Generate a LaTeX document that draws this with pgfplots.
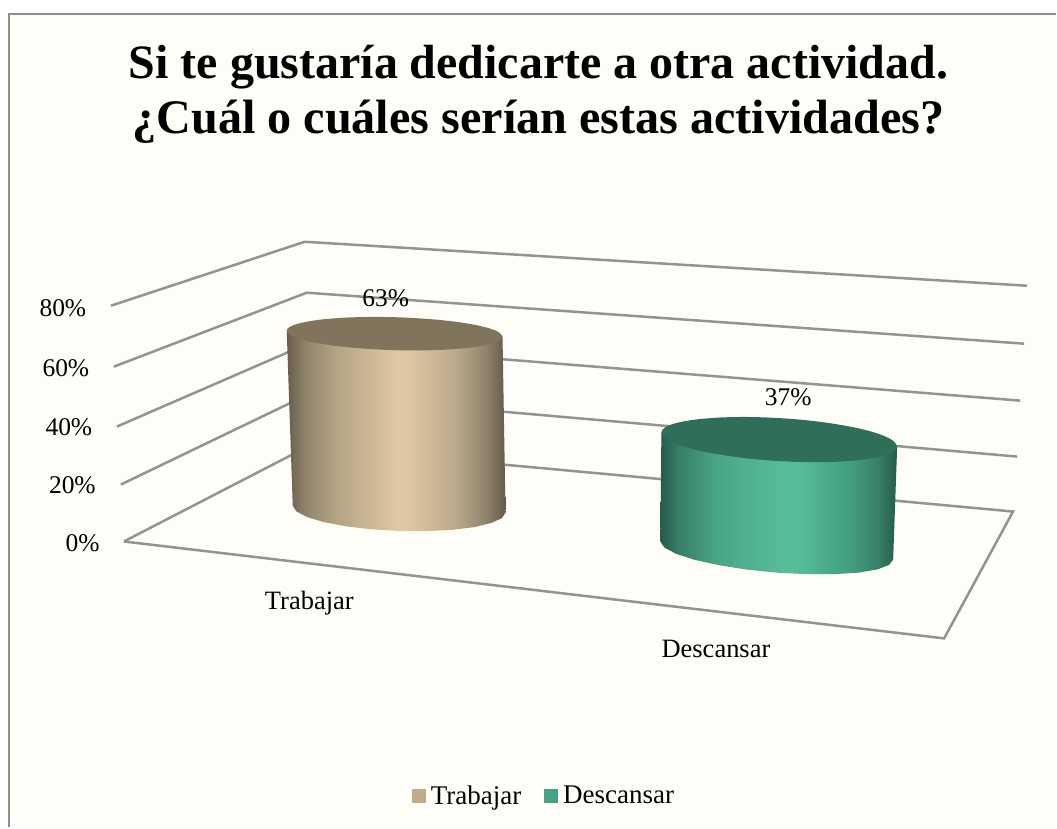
\documentclass[border=0pt]{standalone}
\usepackage{fontspec}
\setmainfont{Liberation Serif}
\usepackage{pgfplots}
\pgfplotsset{compat=1.18}

\definecolor{panel}{HTML}{FFFDF8}
\definecolor{frame}{HTML}{8E8E8C}
\definecolor{gridc}{HTML}{939390}
\definecolor{swA}{HTML}{BFAB8A}
\definecolor{swB}{HTML}{46A284}
\definecolor{topA}{HTML}{80755C}
\definecolor{topB}{HTML}{2F6F59}

% 25bp and 75bp are the left and right edge of the filled path
\pgfdeclarehorizontalshading{cylA}{100bp}{
  rgb(0bp)=(.40,.36,.29); rgb(25bp)=(.40,.36,.29); rgb(29bp)=(.56,.51,.42);
  rgb(36bp)=(.70,.64,.52); rgb(50bp)=(.87,.78,.64); rgb(53bp)=(.87,.78,.64);
  rgb(64bp)=(.72,.66,.54); rgb(71bp)=(.55,.50,.41); rgb(75bp)=(.38,.35,.28);
  rgb(100bp)=(.38,.35,.28)}
\pgfdeclarehorizontalshading{cylB}{100bp}{
  rgb(0bp)=(.15,.36,.29); rgb(25bp)=(.15,.36,.29); rgb(29bp)=(.22,.50,.41);
  rgb(37bp)=(.29,.65,.53); rgb(51bp)=(.34,.74,.60); rgb(54bp)=(.34,.74,.60);
  rgb(65bp)=(.26,.62,.50); rgb(71bp)=(.22,.50,.41); rgb(75bp)=(.14,.36,.29);
  rgb(100bp)=(.14,.36,.29)}

\begin{document}
\begin{tikzpicture}
\begin{axis}[
    scale only axis,
    width=1057pt,
    height=828pt,
    xmin=0, xmax=1057,
    ymin=0, ymax=828,
    y dir=reverse,
    hide axis,
    clip=false,
    no markers,
    legend columns=2,
    legend cell align=left,
    legend style={draw=none, fill=none, at={(axis cs:544.5,796.5)}, anchor=center,
        font=\fontsize{27}{30}\selectfont, inner sep=0pt,
        /tikz/every odd column/.append style={column sep=3pt},
        /tikz/every even column/.append style={column sep=21pt}},
    legend image code/.code={\fill[draw=none, #1] (0pt,-7pt) rectangle (14pt,7pt);},
]
% page and panel
\addplot[draw=none, fill=white, forget plot] coordinates {(0,0) (1057,0) (1057,828) (0,828) (0,0)};
\addplot[draw=none, fill=panel, forget plot] coordinates {(9.5,14.5) (1057,14.5) (1057,828) (9.5,828) (9.5,14.5)};
\addplot[frame, line width=2pt, forget plot] coordinates {(9.5,828) (9.5,14.5) (1057,14.5)};

% side and back wall, 80% down to 0%
\addplot[gridc, line width=2.5pt, forget plot] coordinates {(111,306) (305,242) (1028,286)};
\addplot[gridc, line width=2.5pt, forget plot] coordinates {(114,367) (307,293) (1025,344)};
\addplot[gridc, line width=2.5pt, forget plot] coordinates {(117,427) (308,344) (1021,401)};
\addplot[gridc, line width=2.5pt, forget plot] coordinates {(121,485) (308,395) (1018,457)};
% floor
\addplot[gridc, line width=2.5pt, forget plot] coordinates {(124,542) (308,447) (1014,512) (945,639) (124,542)};

% Trabajar 63%
\addplot[draw=none, shade, shading=cylA, forget plot] coordinates {
  (287,331) (293,506) (296.6,511.8) (307.3,517.5) (324.2,522.6) (346.3,526.8) (371.9,529.8)
  (399.5,531.5) (427.1,531.6) (452.8,530.3) (474.8,527.6) (491.7,523.5) (502.4,518.6)
  (506,513) (503,337) (287,331)};
\addplot[draw=none, fill=topA, smooth, tension=0.6, forget plot] coordinates {
  (503,337) (499.3,341.2) (488.5,344.9) (471.4,347.8) (449,349.8) (423,350.7) (395,350.5)
  (367,349.1) (341,346.8) (318.6,343.6) (301.5,339.7) (290.7,335.4) (287,331) (290.7,326.8)
  (301.5,323.2) (318.6,320.2) (341,318.2) (367,317.3) (395,317.5) (423,318.9) (449,321.2)
  (471.4,324.4) (488.5,328.3) (499.3,332.6) (503,337)};

% Descansar 37%
\addplot[draw=none, shade, shading=cylB, forget plot] coordinates {
  (662,433) (661,542) (665,548) (676.6,554.3) (695.1,560.3) (719.3,565.7) (747.3,570.1)
  (777.5,573.2) (807.7,574.7) (835.8,574.7) (859.9,573.1) (878.4,569.9) (890,565.4)
  (894,560) (898,447) (662,433)};
\addplot[draw=none, fill=topB, smooth, tension=0.6, forget plot] coordinates {
  (898,447) (894,452.4) (882.2,456.8) (863.4,460.1) (839,462.1) (810.6,462.6) (780,461.5)
  (749.4,459) (721,455.1) (696.6,450.3) (677.8,444.7) (666,438.8) (662,433) (666,427.6)
  (677.8,423.2) (696.6,419.9) (721,417.9) (749.4,417.4) (780,418.5) (810.6,421) (839,424.9)
  (863.4,429.7) (882.2,435.3) (894,441.2) (898,447)};

% value labels
\addplot[draw=none, forget plot, point meta=explicit symbolic, nodes near coords,
    nodes near coords align={anchor=base}, every node near coord/.append style={
      inner sep=0pt, font=\fontsize{25.5}{30}\selectfont}] coordinates {
  (386,307) [63\%]
  (789,406) [37\%]};

\addlegendimage{fill=swA}
\addlegendentry{Trabajar}
\addlegendimage{fill=swB}
\addlegendentry{Descansar}

\node[anchor=base, font=\fontsize{48}{64}\selectfont\bfseries] at (axis cs:539,79)
    {Si te gustaría dedicarte a otra actividad.};
\node[anchor=base, font=\fontsize{48.2}{64}\selectfont\bfseries] at (axis cs:539,134)
    {¿Cuál o cuáles serían estas actividades?};

\node[anchor=base east, inner sep=0pt, font=\fontsize{25.5}{30}\selectfont] at (axis cs:86.5,317) {80\%};
\node[anchor=base east, inner sep=0pt, font=\fontsize{25.5}{30}\selectfont] at (axis cs:89.5,377) {60\%};
\node[anchor=base east, inner sep=0pt, font=\fontsize{25.5}{30}\selectfont] at (axis cs:92.5,436) {40\%};
\node[anchor=base east, inner sep=0pt, font=\fontsize{25.5}{30}\selectfont] at (axis cs:96,494) {20\%};
\node[anchor=base east, inner sep=0pt, font=\fontsize{25.5}{30}\selectfont] at (axis cs:100,552) {0\%};

\node[anchor=base west, inner sep=0pt, font=\fontsize{26.5}{30}\selectfont] at (axis cs:265,610) {Trabajar};
\node[anchor=base west, inner sep=0pt, font=\fontsize{26.5}{30}\selectfont] at (axis cs:662,658) {Descansar};
\end{axis}
\end{tikzpicture}
\end{document}
